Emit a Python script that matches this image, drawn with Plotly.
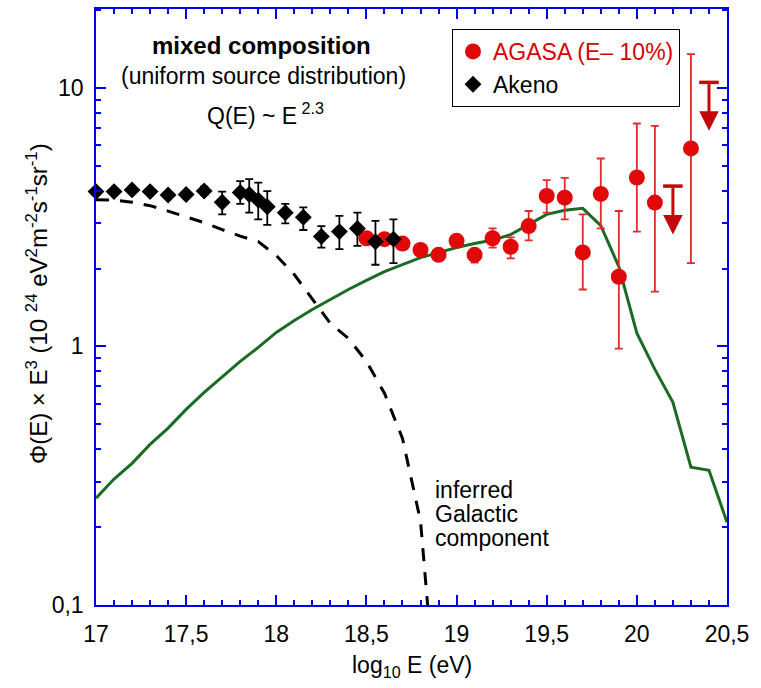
import numpy as np
import plotly.graph_objects as go

# ---------------- data ----------------
# Akeno (black diamonds)
akeno_loge = [17.0, 17.1, 17.2, 17.3, 17.4, 17.5, 17.6, 17.7, 17.8, 17.85,
              17.9, 17.95, 18.05, 18.15, 18.25, 18.35, 18.45, 18.55, 18.65]
akeno_flux = [3.97, 3.97, 4.03, 3.97, 3.85, 3.87, 3.99, 3.61, 3.94, 3.87,
              3.68, 3.47, 3.29, 3.16, 2.66, 2.78, 2.86, 2.54, 2.60]
akeno_hi = [3.97, 3.97, 4.03, 3.97, 3.85, 3.87, 4.15, 3.97, 4.36, 4.44,
            4.30, 3.99, 3.56, 3.45, 2.92, 3.20, 3.29, 3.06, 3.10]
akeno_lo = [3.97, 3.97, 4.03, 3.97, 3.85, 3.87, 3.85, 3.24, 3.56, 3.29,
            3.10, 2.95, 2.99, 2.82, 2.41, 2.38, 2.45, 2.07, 2.10]

# AGASA (red circles)
agasa_loge = [18.5, 18.6, 18.7, 18.8, 18.9, 19.0, 19.1, 19.2, 19.3, 19.4,
              19.5, 19.6, 19.7, 19.8, 19.9, 20.0, 20.1, 20.3]
agasa_flux = [2.62, 2.60, 2.50, 2.36, 2.26, 2.56, 2.26, 2.62, 2.43, 2.92,
              3.82, 3.76, 2.31, 3.89, 1.86, 4.50, 3.60, 5.83]
agasa_hi = [2.62, 2.60, 2.50, 2.36, 2.26, 2.64, 2.36, 2.86, 2.64, 3.34,
            4.40, 4.49, 3.24, 5.33, 3.34, 7.28, 7.13, 13.5]
agasa_lo = [2.62, 2.60, 2.50, 2.36, 2.26, 2.49, 2.11, 2.41, 2.19, 2.57,
            3.29, 3.10, 1.66, 2.86, 0.98, 2.78, 1.63, 2.10]

# AGASA upper limits
ul_loge = [20.2, 20.4]
ul_flux = [4.17, 10.5]

# model: mixed composition, uniform sources (green line)
model_loge = [17.0, 17.1, 17.2, 17.3, 17.4, 17.5, 17.6, 17.7, 17.8, 17.9,
              18.0, 18.1, 18.2, 18.3, 18.4, 18.5, 18.6, 18.7, 18.8, 18.9,
              19.0, 19.1, 19.2, 19.3, 19.4, 19.5, 19.6, 19.7, 19.8, 19.9,
              20.0, 20.1, 20.2, 20.3, 20.4, 20.5]
model_flux = [0.259, 0.307, 0.353, 0.418, 0.483, 0.571, 0.664, 0.759, 0.875, 0.991,
              1.133, 1.26, 1.39, 1.519, 1.66, 1.80, 1.948, 2.073, 2.206, 2.306,
              2.412, 2.499, 2.578, 2.706, 2.958, 3.242, 3.365, 3.42, 2.932, 2.036,
              1.126, 0.815, 0.608, 0.341, 0.332, 0.209]

# inferred Galactic component (dashed line)
gal_loge = [17.0, 17.1, 17.2, 17.3, 17.4, 17.5, 17.6, 17.7, 17.8, 17.9,
            18.0, 18.1, 18.2, 18.3, 18.4, 18.5, 18.6, 18.7, 18.8, 18.84]
gal_flux = [3.695, 3.678, 3.614, 3.503, 3.336, 3.177, 3.011, 2.829, 2.671, 2.543,
            2.246, 1.897, 1.532, 1.227, 1.074, 0.875, 0.659, 0.441, 0.211, 0.099]

y_tick_vals = [0.1, 1, 10]
y_tick_text = ["0,1", "1", "10"]
y_minor_vals = [0.2, 0.3, 0.4, 0.5, 0.6, 0.7, 0.8, 0.9,
                2, 3, 4, 5, 6, 7, 8, 9, 20]
x_tick_vals = [17, 17.5, 18, 18.5, 19, 19.5, 20, 20.5]
x_tick_text = ["17", "17,5", "18", "18,5", "19", "19,5", "20", "20,5"]

# ---------------- style ----------------
BLUE = "#0000ee"
GREEN = "#1c6b24"
RED = "#e00808"
ERR_RED = "#e22a2a"
DARK_RED = "#c20808"
FONT = "Liberation Sans, Arial, sans-serif"
ARROW_FACTOR = 0.65

fig = go.Figure()

fig.add_trace(go.Scatter(
    x=model_loge, y=model_flux, mode="lines",
    line=dict(color=GREEN, width=3), showlegend=False, hoverinfo="skip"))

fig.add_trace(go.Scatter(
    x=gal_loge, y=gal_flux, mode="lines",
    line=dict(color="black", width=3, dash="13px,11px"),
    showlegend=False, hoverinfo="skip"))

fig.add_trace(go.Scatter(
    x=agasa_loge, y=agasa_flux, mode="markers",
    name="<span style='color:#d80000'>AGASA (E– 10%)</span>",
    marker=dict(symbol="circle", size=16, color=RED),
    error_y=dict(type="data", symmetric=False,
                 array=[h - v for h, v in zip(agasa_hi, agasa_flux)],
                 arrayminus=[v - l for l, v in zip(agasa_lo, agasa_flux)],
                 color=ERR_RED, thickness=1.8, width=4)))

fig.add_trace(go.Scatter(
    x=akeno_loge, y=akeno_flux, mode="markers", name="Akeno",
    cliponaxis=False,
    marker=dict(symbol="diamond", size=13, color="black"),
    error_y=dict(type="data", symmetric=False,
                 array=[h - v for h, v in zip(akeno_hi, akeno_flux)],
                 arrayminus=[v - l for l, v in zip(akeno_lo, akeno_flux)],
                 color="black", thickness=1.8, width=4)))

fig.add_trace(go.Scatter(
    x=ul_loge, y=ul_flux, mode="markers", showlegend=False,
    marker=dict(symbol="line-ew", size=14, color=DARK_RED,
                line=dict(color=DARK_RED, width=3.5))))

for xv, yv in zip(ul_loge, ul_flux):
    fig.add_annotation(
        x=xv, y=np.log10(yv * ARROW_FACTOR), ax=xv, ay=np.log10(yv),
        xref="x", yref="y", axref="x", ayref="y", text="",
        showarrow=True, arrowhead=2, arrowsize=1.3, arrowwidth=3,
        arrowcolor=DARK_RED, standoff=0, startstandoff=0)

# texts
def txt(s, x, y, size=23, bold=False, xanchor="center"):
    fig.add_annotation(
        text=f"<b>{s}</b>" if bold else s, x=x, y=y, xref="paper", yref="paper",
        xanchor=xanchor, yanchor="middle", showarrow=False,
        font=dict(family=FONT, size=size, color="black"))

W, H = 761, 688
L, R, T, B = 96, 727, 7, 605
def px(xp):
    return (xp - L) / (R - L)
def py(yp):
    return (B - yp) / (B - T)

txt("mixed composition", px(261), py(44), size=24, bold=True)
txt("(uniform source distribution)", px(263), py(74))
txt("Q(E) ~ E<sup> 2.3</sup>", px(265), py(112))
txt("inferred", px(433), py(490), xanchor="left")
txt("Galactic", px(433), py(514), xanchor="left")
txt("component", px(433), py(538), xanchor="left")

# axis titles
fig.add_annotation(
    text="Φ(E) × E<sup>3</sup> (10 <sup>24</sup> eV<sup>2</sup>m<sup>-2</sup>s<sup>-1</sup>sr<sup>-1</sup>)",
    x=px(37), y=py(303), xref="paper", yref="paper", textangle=-90,
    xanchor="center", yanchor="middle", showarrow=False,
    font=dict(family=FONT, size=24, color="black"))
fig.add_annotation(
    text="log<sub>10</sub> E (eV)",
    x=px(412), y=py(667), xref="paper", yref="paper",
    xanchor="center", yanchor="middle", showarrow=False,
    font=dict(family=FONT, size=23, color="black"))

fig.update_layout(
    width=W, height=H,
    margin=dict(l=L, r=W - R, t=T, b=H - B),
    paper_bgcolor="white", plot_bgcolor="white",
    font=dict(family=FONT, size=23, color="black"),
    legend=dict(x=px(452), y=py(27), xanchor="left", yanchor="top",
                bordercolor="black", borderwidth=1, bgcolor="white",
                font=dict(family=FONT, size=23, color="black"),
                itemwidth=30, tracegroupgap=0),
    showlegend=True,
)

fig.update_xaxes(
    range=[17, 20.5], showline=True, linecolor=BLUE, linewidth=1.5,
    mirror="ticks", ticks="inside", ticklen=10, tickwidth=1.5, tickcolor=BLUE,
    tickmode="array", tickvals=x_tick_vals, ticktext=x_tick_text,
    tickfont=dict(family=FONT, size=23, color="black"),
    showgrid=False, zeroline=False, ticklabelstandoff=8,
    minor=dict(ticks="inside", ticklen=5, tickwidth=1.5, tickcolor=BLUE,
               tickmode="linear", tick0=17, dtick=0.1, showgrid=False))

fig.update_yaxes(
    type="log", range=[-1.0, 1.305], showline=True, linecolor=BLUE, linewidth=1.5,
    mirror="ticks", ticks="inside", ticklen=10, tickwidth=1.5, tickcolor=BLUE,
    tickmode="array", tickvals=y_tick_vals, ticktext=y_tick_text,
    tickfont=dict(family=FONT, size=23, color="black"),
    showgrid=False, zeroline=False, ticklabelstandoff=6,
    minor=dict(ticks="inside", ticklen=5, tickwidth=1.5, tickcolor=BLUE,
               tickmode="array", tickvals=y_minor_vals, showgrid=False))

fig.write_html("out.html")
